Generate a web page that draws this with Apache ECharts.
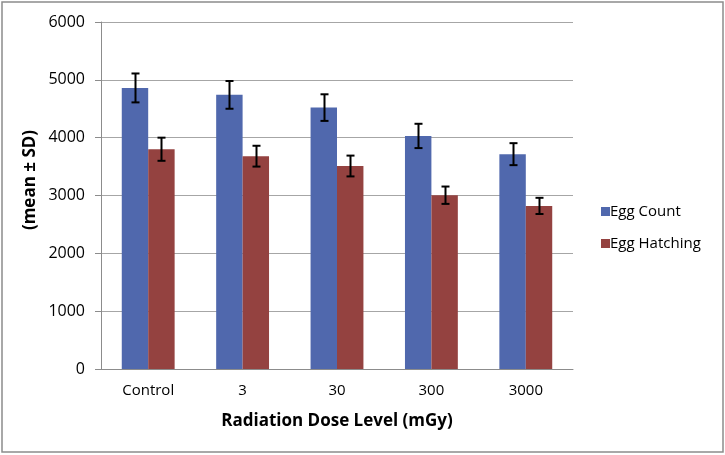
<!DOCTYPE html>
<html><head><meta charset="utf-8">
<script src="https://cdn.jsdelivr.net/npm/echarts@6/dist/echarts.min.js"></script>
<style>html,body{margin:0;padding:0;background:#fff;overflow:hidden}#c{width:725px;height:455px}</style>
</head><body><div id="c"></div>
<script>
const categories = ['Control', '3', '30', '300', '3000'];
const eggCount = [4860, 4740, 4520, 4030, 3715];
const eggCountSD = [250, 240, 230, 210, 190];
const eggHatching = [3800, 3680, 3510, 3005, 2820];
const eggHatchingSD = [200, 180, 180, 150, 140];
const yTicks = [0, 1000, 2000, 3000, 4000, 5000, 6000];

const GAP = 0.44;
const FONT = '"Open Sans", sans-serif';

function errData(vals, sds) {
  return vals.map((v, i) => [i, v - sds[i], v + sds[i]]);
}
function errSeries(name, vals, sds, side) {
  return {
    type: 'custom', name: name + ' SD', z: 10, silent: true,
    data: errData(vals, sds),
    encode: { x: 0, y: [1, 2] },
    renderItem: function (params, api) {
      const band = api.size([1, 0])[0];
      const bw = band * (1 - GAP) / 2;
      const lo = api.coord([api.value(0), api.value(1)]);
      const hi = api.coord([api.value(0), api.value(2)]);
      const x = Math.round(lo[0] + side * bw / 2) + 0.5;
      const cap = 4;
      const st = { stroke: '#000', lineWidth: 2 };
      return { type: 'group', children: [
        { type: 'line', shape: { x1: x, y1: hi[1], x2: x, y2: lo[1] }, style: st },
        { type: 'line', shape: { x1: x - cap, y1: hi[1], x2: x + cap, y2: hi[1] }, style: st },
        { type: 'line', shape: { x1: x - cap, y1: lo[1], x2: x + cap, y2: lo[1] }, style: st }
      ]};
    }
  };
}

const chart = echarts.init(document.getElementById('c'), null, { renderer: 'canvas' });
chart.setOption({
  animation: false,
  backgroundColor: '#fff',
  grid: { left: 101, right: 152, top: 22, bottom: 86, containLabel: false },
  legend: {
    orient: 'vertical', left: 596, top: 199, itemWidth: 9, itemHeight: 9, itemGap: 17,
    icon: 'rect',
    data: ['Egg Count', 'Egg Hatching'],
    textStyle: { fontFamily: FONT, fontSize: 15, color: '#000', padding: [0, 0, 0, -5] }
  },
  xAxis: {
    type: 'category', data: categories,
    axisLine: { lineStyle: { color: '#8c8c8c', width: 1 } },
    axisTick: { show: false },
    axisLabel: { fontFamily: FONT, fontSize: 15, color: '#000', margin: 14 },
    name: 'Radiation Dose Level (mGy)', nameLocation: 'middle', nameGap: 44,
    nameTextStyle: { fontFamily: FONT, fontSize: 17, fontWeight: 'bold', color: '#000' }
  },
  yAxis: {
    type: 'value', min: yTicks[0], max: yTicks[yTicks.length - 1], interval: 1000,
    axisLine: { show: true, lineStyle: { color: '#8c8c8c' } },
    axisTick: { show: true, length: 6, lineStyle: { color: '#8c8c8c' } },
    splitLine: { lineStyle: { color: '#a6a6a6', width: 1 } },
    axisLabel: { fontFamily: FONT, fontSize: 16, color: '#000', margin: 16,
      formatter: function (v) { return String(v); } }
  },
  series: [
    { name: 'Egg Count', type: 'bar', data: eggCount, barGap: '0%', barCategoryGap: '44%',
      itemStyle: { color: '#5068ad' } },
    { name: 'Egg Hatching', type: 'bar', data: eggHatching,
      itemStyle: { color: '#944240' } },
    errSeries('Egg Count', eggCount, eggCountSD, -1),
    errSeries('Egg Hatching', eggHatching, eggHatchingSD, 1)
  ],
  graphic: [
    { type: 'rect', shape: { x: 2, y: 2, width: 721, height: 450 },
      style: { fill: 'rgba(0,0,0,0)', stroke: '#8c8c8c', lineWidth: 1.5 }, silent: true, z: 100 },
    { type: 'text', x: 30, y: 180, rotation: Math.PI / 2,
      style: { text: '(mean ± SD)', font: 'bold 17px "Open Sans", sans-serif', fill: '#000',
        align: 'center', verticalAlign: 'middle' } }
  ]
});
</script></body></html>
